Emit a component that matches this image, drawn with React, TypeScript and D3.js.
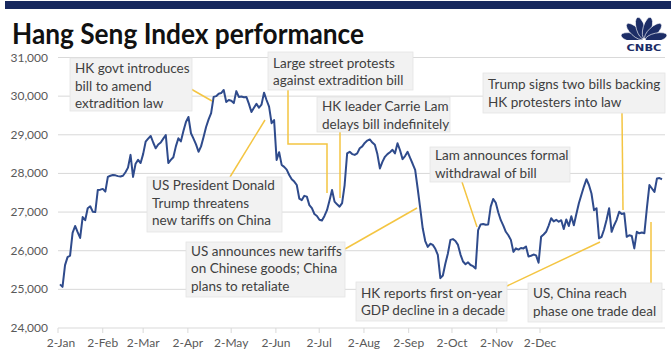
import React from 'react';
import * as d3 from 'd3';

// Hang Seng Index closes, one value per trading day (2 Jan 2019 → 19 Dec 2019)
const HSI_VALUES: number[] = [
  25130, 25064, 25626, 25835, 25875, 26462, 26640, 26480, 26330, 26870,
  26790, 27100, 27150, 27010, 27000, 27570, 27580, 27600, 27530, 27910,
  27940, 27960, 27950, 27930, 27920, 27940, 28030, 28150, 28480, 27910,
  28250, 28350, 28270, 28500, 28820, 28900, 28970, 28800, 28650, 28750,
  28800, 28900, 28990, 28270, 28350, 28420, 28700, 28910, 28830, 29100,
  29330, 29460, 29040, 28900, 28750, 28560, 28700, 28940, 29200, 29400,
  29560, 29980, 30000, 30060, 30080, 30160, 29850, 29900, 29880, 29820,
  30130, 29980, 29990, 29970, 29980, 29800, 29590, 29700, 29800, 29700,
  29780, 30090, 29900, 29730, 29300, 29380, 28350, 28550, 28220, 28170,
  28100, 27960, 27850, 27790, 27700, 27350, 27310, 27420, 27400, 27180,
  27100, 26950, 26900, 26800, 26780, 26900, 27050, 27300, 27570, 27270,
  27200, 27140, 27230, 27700, 28520, 28560, 28500, 28480, 28520, 28650,
  28700, 28790, 28850, 28880, 28800, 28740, 28500, 28130, 28300, 28430,
  28500, 28550, 28610, 28520, 28780, 28600, 28370, 28450, 28560, 28400,
  28250, 28090, 27610, 27100, 26580, 26250, 26100, 26180, 26150, 26050,
  25890, 25290, 25360, 25670, 25930, 26280, 26300, 26250, 26150, 25900,
  25720, 25650, 25700, 25630, 25600, 25540, 26535, 26680, 26690, 26670,
  26680, 27140, 27340, 27240, 26990, 26790, 26650, 26490, 26400, 26280,
  25970, 26060, 26030, 26070, 26060, 26110, 25850, 25870, 25900, 25880,
  25690, 26360, 26420, 26490, 26650, 26840, 26760, 26800, 26750, 26790,
  26560, 26810, 26640, 26890, 26660, 26950, 27230, 27450, 27660, 27850,
  27700, 27480, 27050, 27100, 26320, 26360, 26550, 26800, 27100, 26490,
  26660, 26800, 27010, 26950, 26970, 26360, 26400, 26380, 26060, 26490,
  26450, 26470, 26450, 27100, 27700, 27610, 27520, 27870, 27880, 27850,
];

const MONTH_TICKS: string[] = [
  '2019-01-02', '2019-02-02', '2019-03-02', '2019-04-02', '2019-05-02', '2019-06-02',
  '2019-07-02', '2019-08-02', '2019-09-02', '2019-10-02', '2019-11-02', '2019-12-02',
];

const Y_TICKS: number[] = [24000, 25000, 26000, 27000, 28000, 29000, 30000, 31000];

const ANNOTATION_TEXTS: string[][] = [
  ['HK govt introduces', 'bill to amend', 'extradition law'],
  ['Large street protests', 'against extradition bill'],
  ['HK leader Carrie Lam', 'delays bill indefinitely'],
  ['US President Donald', 'Trump threatens', 'new tariffs on China'],
  ['US announces new tariffs', 'on Chinese goods; China', 'plans to retaliate'],
  ['Lam announces formal', 'withdrawal of bill'],
  ['Trump signs two bills backing', 'HK protesters into law'],
  ['HK reports first on-year', 'GDP decline in a decade'],
  ['US, China reach', 'phase one trade deal'],
];

// layout (pixels) for each annotation: box and leader path
const ANNOTATION_LAYOUT = [
  { box: [70, 58, 122, 53], first: 73, leader: [[191, 89], [212, 101]] },
  { box: [268, 52, 145, 38], first: 67.5, leader: [[288, 90], [288, 144], [327, 144], [327, 193]] },
  { box: [317, 97, 133, 35], first: 111, leader: [[340, 132], [340, 198]] },
  { box: [147, 177, 135, 55], first: 190, leader: [[230, 177], [265, 120]] },
  { box: [186, 242, 159, 55], first: 255.5, leader: [[345, 249], [417, 208]] },
  { box: [430, 147, 140, 35], first: 160, leader: [[462, 182], [477, 227]] },
  { box: [483, 73, 182, 40], first: 89, leader: [[622, 113], [623, 210]] },
  { box: [356, 282, 151, 39], first: 297.5, leader: [[507, 286], [600, 242]] },
  { box: [528, 283, 134, 39], first: 298, leader: [[651, 222], [651, 283]] },
];

const FONT = 'Lato, "Open Sans", sans-serif';

export default function App() {
  const W = 671, H = 357;
  const y = d3.scaleLinear().domain([24000, 31000]).range([328, 57.5]);
  const xIdx = d3.scaleLinear().domain([0, HSI_VALUES.length - 1]).range([60, 662]);
  const parse = d3.timeParse('%Y-%m-%d');
  const tickDates = MONTH_TICKS.map((d) => parse(d) as Date);
  const xTime = d3.scaleTime().domain([tickDates[0], tickDates[tickDates.length - 1]]).range([58, 540]);
  const fmtTick = d3.timeFormat('%-d-%b');
  const fmtY = d3.format(',');

  const linePath = d3
    .line<number>()
    .x((_, i) => xIdx(i))
    .y((v) => y(v))(HSI_VALUES) as string;

  const leaderLine = d3.line<number[]>().x((p) => p[0]).y((p) => p[1]);

  // CNBC peacock feathers
  const feathers = [-78, -47, -16, 16, 47, 78];

  return (
    <svg width={W} height={H} style={{ position: 'absolute', left: 0, top: 0, background: '#fff' }}>
      <rect x={0} y={0} width={W} height={H} fill="#fff" />
      {/* top navy bar */}
      <rect x={5} y={1} width={W - 5} height={8} fill="#17285e" />

      {/* title */}
      <text x={12} y={44} fontFamily={FONT} fontWeight={700} fontSize={28} fill="#111" textLength={352} lengthAdjust="spacingAndGlyphs">
        Hang Seng Index performance
      </text>

      {/* CNBC logo */}
      <g transform="translate(644,40)">
        {feathers.map((a, i) => (
          <ellipse key={i} cx={0} cy={-12.5} rx={4.3} ry={11} fill="#1c2d66" stroke="#fff" strokeWidth={0.6} transform={`rotate(${a})`} />
        ))}
        <rect x={-22} y={0} width={44} height={4} fill="#fff" />
      </g>
      <text x={644} y={51} textAnchor="middle" fontFamily='"DejaVu Sans", sans-serif' fontWeight={700} fontSize={9.5} fill="#1c2d66" textLength={35} lengthAdjust="spacingAndGlyphs">
        CNBC
      </text>

      {/* gridlines */}
      {Y_TICKS.map((t) => (
        <line key={t} x1={58} x2={665} y1={y(t)} y2={y(t)} stroke="#d9d9d9" strokeWidth={1} />
      ))}
      {/* y labels */}
      {Y_TICKS.map((t) => (
        <text key={'l' + t} x={48} y={y(t) + 4} textAnchor="end" fontFamily={FONT} fontSize={12} fill="#595959">
          {fmtY(t)}
        </text>
      ))}
      {/* x ticks */}
      {tickDates.map((d, i) => (
        <g key={i}>
          <line x1={xTime(d)} x2={xTime(d)} y1={y(24000)} y2={y(24000) + 5} stroke="#d9d9d9" />
          <text x={xTime(d) + (i === 0 ? 3 : 0)} y={347} textAnchor="middle" fontFamily={FONT} fontSize={12} fill="#595959">
            {fmtTick(d)}
          </text>
        </g>
      ))}

      {/* data line */}
      <path d={linePath} fill="none" stroke="#2f4b8c" strokeWidth={2} strokeLinejoin="round" />

      {/* annotations */}
      {ANNOTATION_LAYOUT.map((a, i) => (
        <path key={'ld' + i} d={leaderLine(a.leader) as string} fill="none" stroke="#f4c542" strokeWidth={1.5} />
      ))}
      {ANNOTATION_LAYOUT.map((a, i) => (
        <g key={'an' + i}>
          <rect x={a.box[0]} y={a.box[1]} width={a.box[2]} height={a.box[3]} fill="#f2f2f2" stroke="#e4e4e4" strokeWidth={0.8} />
          {ANNOTATION_TEXTS[i].map((t, j) => (
            <text key={j} x={a.box[0] + 5} y={a.first + j * 17.5} fontFamily={FONT} fontSize={13.5} fill="#404040">
              {t}
            </text>
          ))}
        </g>
      ))}
    </svg>
  );
}
